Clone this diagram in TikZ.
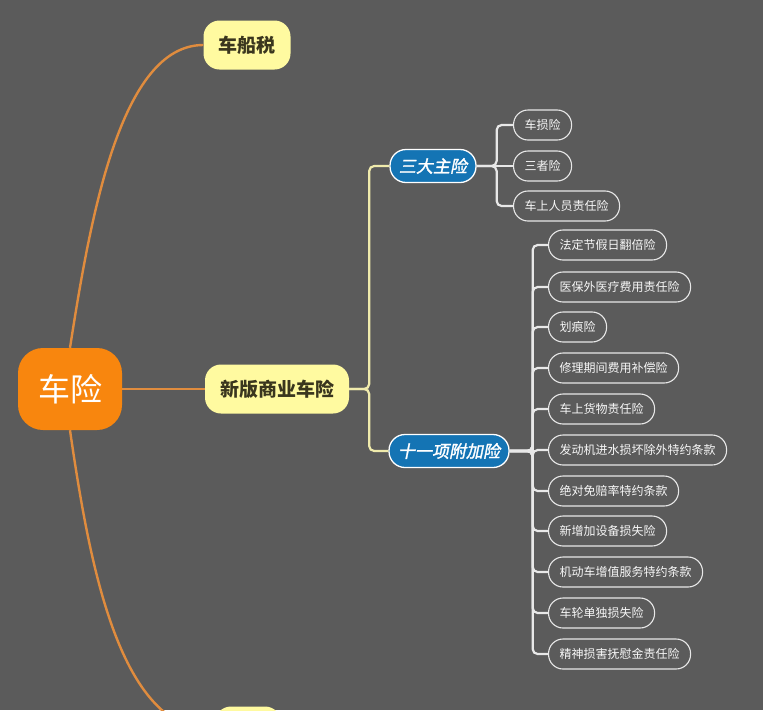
\documentclass[tikz,border=0pt]{standalone}
\usepackage{fontspec}
\setmainfont{Noto Sans CJK SC}
\newfontfamily\topicfont[FakeSlant=0.2,FakeBold=1.6]{Noto Sans CJK SC}
\definecolor{bggray}{RGB}{91,91,91}
\definecolor{rootorange}{RGB}{248,134,14}
\definecolor{topicyellow}{RGB}{255,250,160}
\definecolor{topictext}{RGB}{58,54,30}
\definecolor{orangeline}{RGB}{224,140,62}
\definecolor{paleline}{RGB}{240,235,172}
\definecolor{subblue}{RGB}{20,116,180}
\definecolor{leafline}{RGB}{232,232,232}
\begin{document}
\begin{tikzpicture}[x=1pt,y=-1pt,
  rootbox/.style={fill=rootorange, text=white, rounded corners=25pt, minimum width=104pt, minimum height=82pt, font=\fontsize{32}{36}\selectfont},
  topicbox/.style={fill=topicyellow, text=topictext, rounded corners=16pt, minimum height=49pt, inner xsep=15pt, font=\fontsize{19}{22}\selectfont\bfseries},
  subbox/.style={fill=subblue, draw=white, line width=1.3pt, text=white, rounded corners=16pt, minimum height=33pt, inner xsep=9pt, font=\fontsize{17}{20}\selectfont\topicfont},
  leafbox/.style={anchor=west, fill=bggray, draw=leafline, line width=1.1pt, text=white!94!gray, rounded corners=14.5pt, minimum height=30pt, inner xsep=11pt, font=\fontsize{12}{14}\selectfont},
  orangelink/.style={draw=orangeline, line width=2.4pt},
  yellowlink/.style={draw=paleline, line width=2.2pt, rounded corners=5pt},
  leaflink/.style={draw=leafline, line width=2.2pt, rounded corners=5pt}]
\useasboundingbox (0,0) rectangle (763,710);
\clip (0,0) rectangle (763,710);
\fill[bggray] (0,0) rectangle (763,710);

\node[rootbox] (root) at (70,389) {车险};
\node[topicbox] (tax) at (247,45) {车船税};
\node[topicbox] (commercial) at (277,389) {新版商业车险};
\node[topicbox, minimum width=66pt] (hidden) at (248,731) {};

\node[subbox] (main) at (433,166) {三大主险};
\node[subbox] (addon) at (449,451) {十一项附加险};

\node[leafbox] (damage) at (513,125) {车损险};
\node[leafbox] (third) at (513,166) {三者险};
\node[leafbox] (seat) at (513,206) {车上人员责任险};

\node[leafbox] (holiday) at (548,245) {法定节假日翻倍险};
\node[leafbox] (medical) at (548,287) {医保外医疗费用责任险};
\node[leafbox] (scratch) at (548,327) {划痕险};
\node[leafbox] (repair) at (548,368) {修理期间费用补偿险};
\node[leafbox] (cargo) at (548,409) {车上货物责任险};
\node[leafbox] (engine) at (548,450) {发动机进水损坏除外特约条款};
\node[leafbox] (deduct) at (548,491) {绝对免赔率特约条款};
\node[leafbox] (equip) at (548,531) {新增加设备损失险};
\node[leafbox] (service) at (548,572) {机动车增值服务特约条款};
\node[leafbox] (wheel) at (548,613) {车轮单独损失险};
\node[leafbox] (mental) at (548,654) {精神损害抚慰金责任险};

% root branches
\draw[orangelink] (root.north) .. controls (90,220) and (120,45) .. (tax.west);
\draw[orangelink] (root.east) -- (commercial.west);
\draw[orangelink] (root.south) .. controls (90,568) and (120,731) .. (hidden.west);

% commercial insurance
\draw[yellowlink] (commercial.east) -- ++(20,0) |- (main.west);
\draw[yellowlink] (commercial.east) -- ++(20,0) |- (addon.west);

% main insurance
\draw[leaflink] (main.east) -- ++(20,0) |- (damage.west);
\draw[leaflink] (main.east) -- (third.west);
\draw[leaflink] (main.east) -- ++(20,0) |- (seat.west);

% add-on insurance
\draw[leaflink] (addon.east) -- ++(23,0) |- (holiday.west);
\draw[leaflink] (addon.east) -- ++(23,0) |- (medical.west);
\draw[leaflink] (addon.east) -- ++(23,0) |- (scratch.west);
\draw[leaflink] (addon.east) -- ++(23,0) |- (repair.west);
\draw[leaflink] (addon.east) -- ++(23,0) |- (cargo.west);
\draw[leaflink] (addon.east) -- ++(23,0) |- (engine.west);
\draw[leaflink] (addon.east) -- ++(23,0) |- (deduct.west);
\draw[leaflink] (addon.east) -- ++(23,0) |- (equip.west);
\draw[leaflink] (addon.east) -- ++(23,0) |- (service.west);
\draw[leaflink] (addon.east) -- ++(23,0) |- (wheel.west);
\draw[leaflink] (addon.east) -- ++(23,0) |- (mental.west);
\end{tikzpicture}
\end{document}
